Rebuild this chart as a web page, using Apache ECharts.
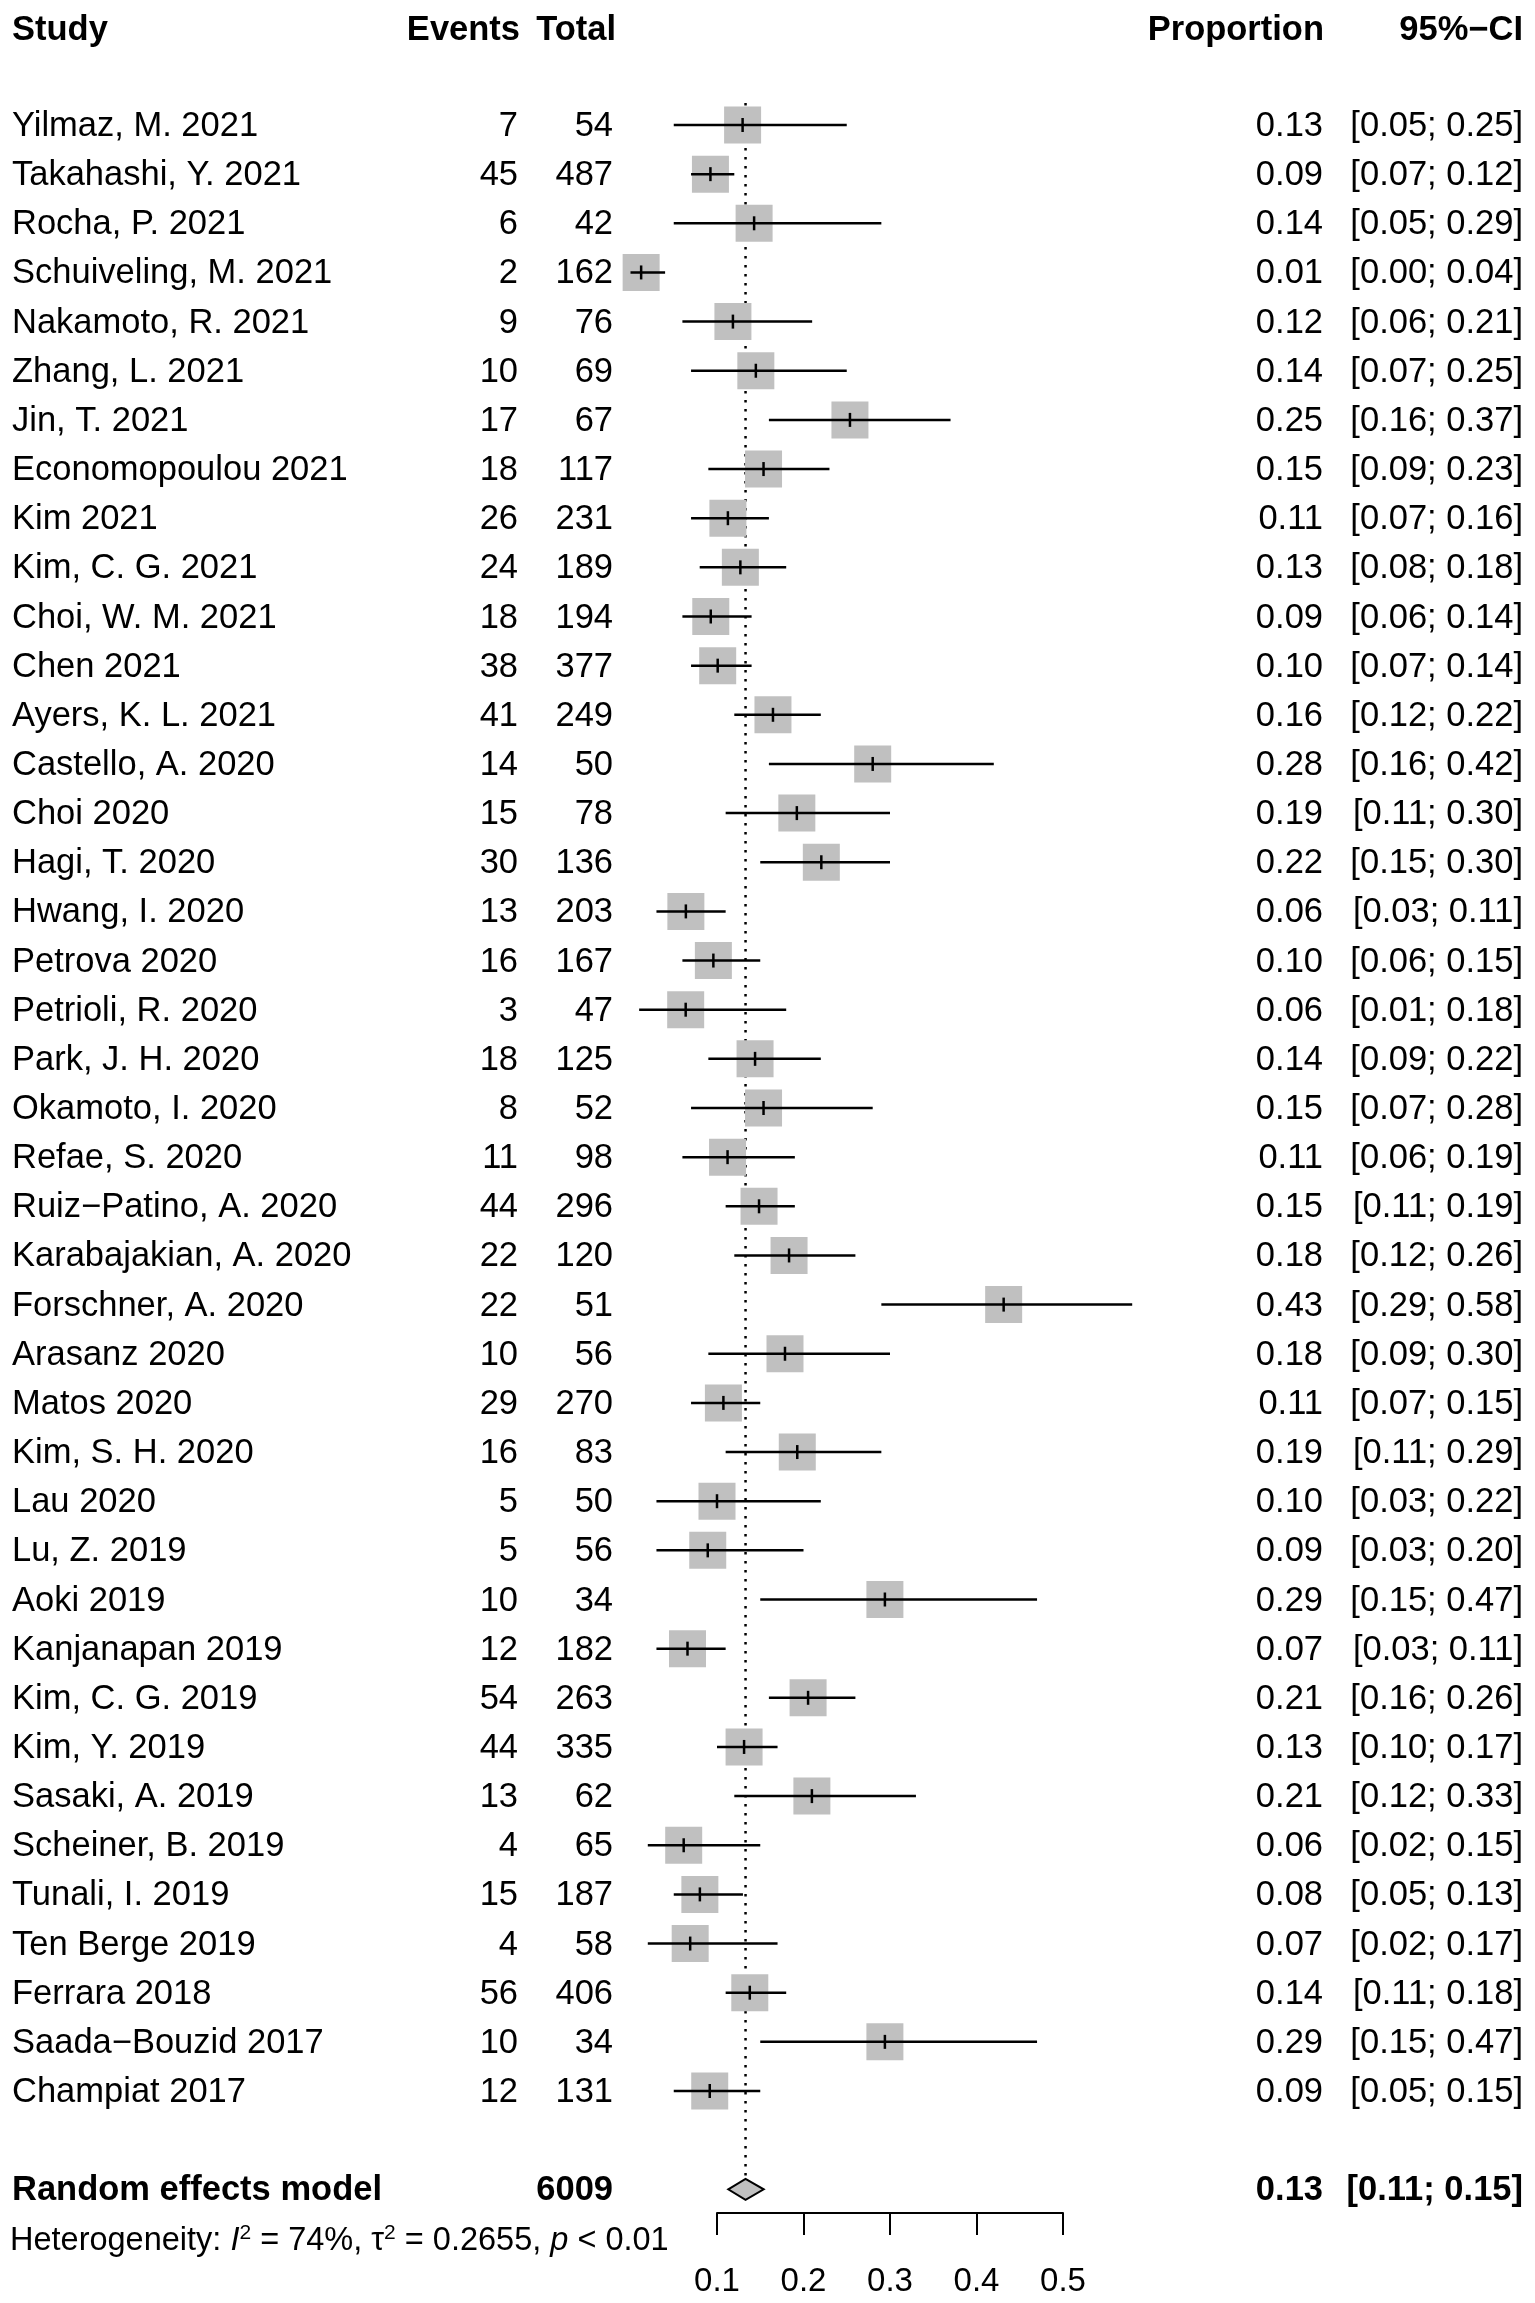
<!DOCTYPE html>
<html><head><meta charset="utf-8">
<script src="https://cdn.jsdelivr.net/npm/echarts@6/dist/echarts.min.js"></script>
<style>html,body{margin:0;padding:0;background:#fff}#c{width:1535px;height:2303px}</style>
</head><body><div id="c"></div>
<script>
const studies = ["Yilmaz, M. 2021","Takahashi, Y. 2021","Rocha, P. 2021","Schuiveling, M. 2021","Nakamoto, R. 2021","Zhang, L. 2021","Jin, T. 2021","Economopoulou 2021","Kim 2021","Kim, C. G. 2021","Choi, W. M. 2021","Chen 2021","Ayers, K. L. 2021","Castello, A. 2020","Choi 2020","Hagi, T. 2020","Hwang, I. 2020","Petrova 2020","Petrioli, R. 2020","Park, J. H. 2020","Okamoto, I. 2020","Refae, S. 2020","Ruiz\u2212Patino, A. 2020","Karabajakian, A. 2020","Forschner, A. 2020","Arasanz 2020","Matos 2020","Kim, S. H. 2020","Lau 2020","Lu, Z. 2019","Aoki 2019","Kanjanapan 2019","Kim, C. G. 2019","Kim, Y. 2019","Sasaki, A. 2019","Scheiner, B. 2019","Tunali, I. 2019","Ten Berge 2019","Ferrara 2018","Saada\u2212Bouzid 2017","Champiat 2017"];
const events = [7,45,6,2,9,10,17,18,26,24,18,38,41,14,15,30,13,16,3,18,8,11,44,22,22,10,29,16,5,5,10,12,54,44,13,4,15,4,56,10,12];
const totals = [54,487,42,162,76,69,67,117,231,189,194,377,249,50,78,136,203,167,47,125,52,98,296,120,51,56,270,83,50,56,34,182,263,335,62,65,187,58,406,34,131];
const proportion = [0.1296,0.0924,0.1429,0.0123,0.1184,0.1449,0.2537,0.1538,0.1126,0.1270,0.0928,0.1008,0.1647,0.2800,0.1923,0.2206,0.0640,0.0958,0.0638,0.1440,0.1538,0.1122,0.1486,0.1833,0.4314,0.1786,0.1074,0.1928,0.1000,0.0893,0.2941,0.0659,0.2053,0.1313,0.2097,0.0615,0.0802,0.0690,0.1379,0.2941,0.0916];
const ciLower = [0.05,0.07,0.05,0.00,0.06,0.07,0.16,0.09,0.07,0.08,0.06,0.07,0.12,0.16,0.11,0.15,0.03,0.06,0.01,0.09,0.07,0.06,0.11,0.12,0.29,0.09,0.07,0.11,0.03,0.03,0.15,0.03,0.16,0.10,0.12,0.02,0.05,0.02,0.11,0.15,0.05];
const ciUpper = [0.25,0.12,0.29,0.04,0.21,0.25,0.37,0.23,0.16,0.18,0.14,0.14,0.22,0.42,0.30,0.30,0.11,0.15,0.18,0.22,0.28,0.19,0.19,0.26,0.58,0.30,0.15,0.29,0.22,0.20,0.47,0.11,0.26,0.17,0.33,0.15,0.13,0.17,0.18,0.47,0.15];
const pooledEstimate = [0.133];
const pooledCI = [0.113, 0.154];
const pooledTotal = [6009];
const heterogeneity = ["74%", "0.2655", "< 0.01"];
const xTicks = [0.1, 0.2, 0.3, 0.4, 0.5];
const headers = ["Study", "Events", "Total", "Proportion", "95%\u2212CI"];

const FONT = "'Liberation Sans', Arial, Helvetica, sans-serif";
const FS = 34.5;
const FS_HET = 32.5;
const ROW_POOLED = 42.0, ROW_HEADER = -1.95, ROW_HET = 43.03;
const X_STUDY = 12, X_EVENTS = 518, X_TOTAL = 613, X_PROP = 1323, X_CI = 1523;
const TEXT_DY = 1.5;

function fmt2(v){ return v.toFixed(2); }
function txt(x, y, text, align, bold){
  return {type:'text', x:x, y:y + TEXT_DY, style:{text:text, fill:'#000', fontSize:FS, fontFamily:FONT, fontWeight: bold ? 'bold' : 'normal', align:align, verticalAlign:'middle'}};
}

const studyData = studies.map((s, i) => [i, proportion[i], ciLower[i], ciUpper[i]]);
const textData = studies.map((s, i) => [i]);

const chart = echarts.init(document.getElementById('c'), null, {renderer:'canvas'});
chart.setOption({
  backgroundColor:'#fff',
  animation:false,
  grid:{left:717, right:472, top:125, bottom:90.1},
  xAxis:{type:'value', min:0.1, max:0.5, interval:0.1, position:'bottom',
    axisLine:{show:true, onZero:false, lineStyle:{color:'#000', width:2}},
    axisTick:{show:true, length:22, lineStyle:{color:'#000', width:2}},
    axisLabel:{color:'#000', fontSize:33, fontFamily:FONT, margin:53, formatter: v => {
      const t = xTicks.find(k => Math.abs(k - v) < 1e-9); return t !== undefined ? t.toFixed(1) : ''; }},
    splitLine:{show:false}},
  yAxis:{type:'value', inverse:true, min:0, max:42.48, show:false},
  series:[
    { // reference dotted line + pooled diamond
      type:'custom', clip:false, data:[[pooledEstimate[0], pooledCI[0], pooledCI[1]]],
      renderItem:(params, api) => {
        const e = api.value(0), lo = api.value(1), hi = api.value(2);
        const top = api.coord([e, -0.45]), bot = api.coord([e, 41.79]);
        const c = api.coord([e, ROW_POOLED]), l = api.coord([lo, ROW_POOLED]), h = api.coord([hi, ROW_POOLED]);
        const hh = 10.5;
        return {type:'group', children:[
          {type:'line', shape:{x1:top[0], y1:top[1], x2:bot[0], y2:bot[1]}, style:{stroke:'#000', lineWidth:2.5, lineDash:[2.5, 6.5]}},
          {type:'polygon', shape:{points:[[l[0], c[1]], [c[0], c[1]-hh], [h[0], c[1]], [c[0], c[1]+hh]]}, style:{fill:'#c0c0c0', stroke:'#000', lineWidth:2}}
        ]};
      }
    },
    { // study boxes and CIs
      type:'custom', clip:false, data:studyData,
      renderItem:(params, api) => {
        const i = api.value(0), e = api.value(1), lo = api.value(2), hi = api.value(3);
        const c = api.coord([e, i]), l = api.coord([lo, i]), h = api.coord([hi, i]);
        const s = 37;
        return {type:'group', children:[
          {type:'rect', shape:{x:c[0]-s/2, y:c[1]-s/2, width:s, height:s}, style:{fill:'#c0c0c0'}},
          {type:'line', shape:{x1:l[0], y1:c[1], x2:h[0], y2:c[1]}, style:{stroke:'#000', lineWidth:2.5}},
          {type:'line', shape:{x1:c[0], y1:c[1]-7, x2:c[0], y2:c[1]+7}, style:{stroke:'#000', lineWidth:2.5}}
        ]};
      }
    },
    { // study text columns
      type:'custom', clip:false, data:textData,
      renderItem:(params, api) => {
        const i = api.value(0);
        const y = api.coord([0.1, i])[1];
        return {type:'group', children:[
          txt(X_STUDY, y, studies[i], 'left'),
          txt(X_EVENTS, y, String(events[i]), 'right'),
          txt(X_TOTAL, y, String(totals[i]), 'right'),
          txt(X_PROP, y, fmt2(proportion[i]), 'right'),
          txt(X_CI, y, '[' + fmt2(ciLower[i]) + '; ' + fmt2(ciUpper[i]) + ']', 'right')
        ]};
      }
    },
    { // header, pooled row and heterogeneity text
      type:'custom', clip:false, data:[[0]],
      renderItem:(params, api) => {
        const yh = api.coord([0.1, ROW_HEADER])[1];
        const yp = api.coord([0.1, ROW_POOLED])[1];
        const yt = api.coord([0.1, ROW_HET])[1];
        return {type:'group', children:[
          txt(X_STUDY, yh, headers[0], 'left', true),
          txt(X_EVENTS + 2, yh, headers[1], 'right', true),
          txt(X_TOTAL + 3, yh, headers[2], 'right', true),
          txt(X_PROP + 1, yh, headers[3], 'right', true),
          txt(X_CI, yh, headers[4], 'right', true),
          txt(X_STUDY, yp, 'Random effects model', 'left', true),
          txt(X_TOTAL, yp, String(pooledTotal[0]), 'right', true),
          txt(X_PROP, yp, fmt2(pooledEstimate[0]), 'right', true),
          txt(X_CI, yp, '[' + fmt2(pooledCI[0]) + '; ' + fmt2(pooledCI[1]) + ']', 'right', true),
          {type:'text', x:X_STUDY - 2, y:yt + TEXT_DY, style:{
            text:'Heterogeneity: {i|I}{s|2} = ' + heterogeneity[0] + ', \u03c4{s|2} = ' + heterogeneity[1] + ', {i|p} ' + heterogeneity[2],
            fill:'#000', fontSize:FS_HET, fontFamily:FONT, align:'left', verticalAlign:'middle', lineHeight:38,
            rich:{
              i:{fontStyle:'italic', fontSize:FS_HET, fontFamily:FONT, fill:'#000', lineHeight:38},
              s:{fontSize:21, fontFamily:FONT, fill:'#000', verticalAlign:'top', lineHeight:21}
            }}}
        ]};
      }
    }
  ]
});
</script></body></html>
